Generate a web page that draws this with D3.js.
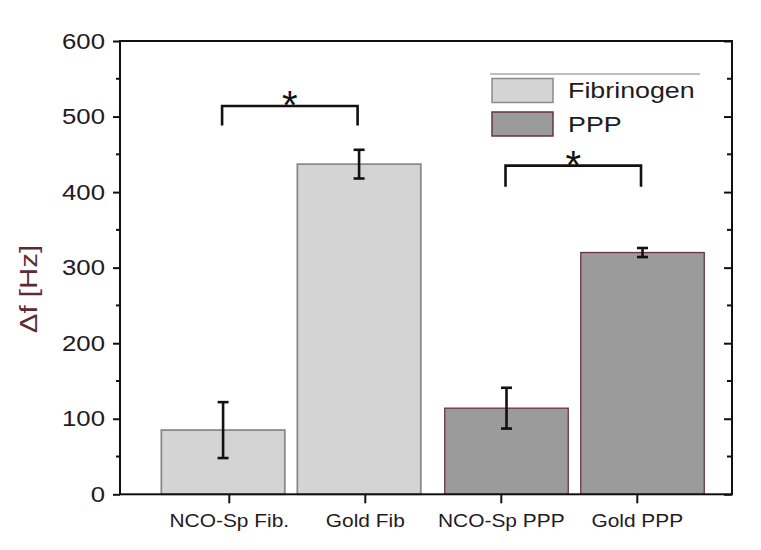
<!DOCTYPE html>
<html>
<head>
<meta charset="utf-8">
<script src="https://cdn.jsdelivr.net/npm/d3@7"></script>
<style>
  html, body { margin: 0; padding: 0; background: #fff; }
  svg { display: block; }
  text { font-family: "Liberation Sans", Arial, sans-serif; }
</style>
</head>
<body>
<svg id="chart" width="761" height="550"></svg>
<script>
// ---- data ----
const categories = ["NCO-Sp Fib.", "Gold Fib", "NCO-Sp PPP", "Gold PPP"];
const seriesNames = ["Fibrinogen", "PPP"];
const barSeries = [0, 0, 1, 1];          // which series each bar belongs to
const values = [85, 437, 114, 320];
const errors = [37, 19, 27, 6];
const yTicks = [0, 100, 200, 300, 400, 500, 600];
const brackets = [
  { from: 0, to: 1, top: 514, foot: 488 },
  { from: 2, to: 3, top: 435, foot: 407 }
];

(function () {
// ---- layout ----
const svg = d3.select("#chart");
const mLeft = 120, mRight = 732, mTop = 41, mBottom = 494.3;
const fills = ["#d4d4d4", "#9b9b9b"];
const strokes = ["#8e8a8c", "#6a3344"];
const seriesOffset = [-0.042, 0.042];
const barW = 0.908;
const textColor = "#241a1e";

// horizontal widening of text glyphs (the reference type is wide)
function widen(sel, sx) {
  sel.each(function () {
    const t = d3.select(this);
    const xv = +t.attr("x") || 0;
    t.attr("x", 0).attr("transform", `translate(${xv},0) scale(${sx},1)`);
  });
}

const x = d3.scaleLinear().domain([0.2, 4.7]).range([mLeft, mRight]);
const y = d3.scaleLinear().domain([0, 600]).range([mBottom, mTop]);
const barCenter = i => x(i + 1 + seriesOffset[barSeries[i]]);

// bars
svg.append("g").selectAll("rect").data(values).join("rect")
  .attr("x", (d, i) => barCenter(i) - (x(barW) - x(0)) / 2)
  .attr("width", x(barW) - x(0))
  .attr("y", d => y(d))
  .attr("height", d => y(0) - y(d))
  .attr("fill", (d, i) => fills[barSeries[i]])
  .attr("stroke", (d, i) => strokes[barSeries[i]])
  .attr("stroke-width", (d, i) => barSeries[i] === 0 ? 1.8 : 1.3);

// error bars
const eg = svg.append("g").attr("stroke", "#111").attr("stroke-width", 2.6).attr("fill", "none");
values.forEach((v, i) => {
  const cx = barCenter(i);
  eg.append("line").attr("x1", cx).attr("x2", cx).attr("y1", y(v + errors[i])).attr("y2", y(v - errors[i]));
  [v + errors[i], v - errors[i]].forEach(e => {
    eg.append("line").attr("x1", cx - 5.5).attr("x2", cx + 5.5).attr("y1", y(e)).attr("y2", y(e));
  });
});

// frame
svg.append("rect").attr("x", mLeft).attr("y", mTop).attr("width", mRight - mLeft).attr("height", mBottom - mTop)
  .attr("fill", "none").attr("stroke", "#111").attr("stroke-width", 2);

// left axis
const yAxis = d3.axisLeft(y).tickValues(yTicks).tickSize(7).tickPadding(8).tickFormat(d3.format("d"));
const ya = svg.append("g").attr("transform", `translate(${mLeft},0)`).call(yAxis);
ya.select(".domain").remove();
ya.selectAll("line").attr("stroke", "#111").attr("stroke-width", 2);
ya.selectAll("text").attr("font-size", 22).attr("fill", textColor);
widen(ya.selectAll("text"), 1.17);
// left minor ticks
const minor = d3.range(50, 600, 100);
svg.append("g").selectAll("line").data(minor).join("line")
  .attr("x1", mLeft - 4).attr("x2", mLeft).attr("y1", d => y(d)).attr("y2", d => y(d))
  .attr("stroke", "#111").attr("stroke-width", 2);
// right inward ticks
const ra = svg.append("g").attr("transform", `translate(${mRight},0)`)
  .call(d3.axisLeft(y).tickValues(yTicks).tickSize(8).tickFormat(""));
ra.select(".domain").remove();
ra.selectAll("line").attr("stroke", "#111").attr("stroke-width", 2);
svg.append("g").selectAll("line").data(minor).join("line")
  .attr("x1", mRight - 5).attr("x2", mRight).attr("y1", d => y(d)).attr("y2", d => y(d))
  .attr("stroke", "#111").attr("stroke-width", 2);

// bottom axis
const xAxis = d3.axisBottom(x).tickValues([1, 2, 3, 4]).tickSize(9).tickPadding(10)
  .tickFormat(d => categories[d - 1]);
const xa = svg.append("g").attr("transform", `translate(0,${mBottom})`).call(xAxis);
xa.select(".domain").remove();
xa.selectAll("line").attr("stroke", "#111").attr("stroke-width", 2);
xa.selectAll("text").attr("font-size", 19).attr("fill", textColor);
widen(xa.selectAll("text"), 1.1);

// y axis title
svg.append("text").attr("transform", "translate(37,289) rotate(-90) scale(1.28,1)")
  .attr("text-anchor", "middle").attr("font-size", 23).attr("fill", "#5e2a38")
  .text("\u0394f [Hz]");

// significance brackets
const bg = svg.append("g");
brackets.forEach(b => {
  const x1 = barCenter(b.from) - 1, x2 = barCenter(b.to) - 1.5;
  bg.append("path")
    .attr("d", `M${x1},${y(b.foot)}V${y(b.top)}H${x2}V${y(b.foot)}`)
    .attr("fill", "none").attr("stroke", "#111").attr("stroke-width", 2.6);
  bg.append("text").attr("x", (x1 + x2) / 2).attr("y", y(b.top) + 13)
    .attr("text-anchor", "middle").attr("font-size", 40).attr("fill", "#111").text("*");
});

// legend
const lg = svg.append("g");
lg.append("line").attr("x1", 490).attr("x2", 700).attr("y1", 74).attr("y2", 74)
  .attr("stroke", "#a8a8a8").attr("stroke-width", 1.5);
seriesNames.forEach((s, i) => {
  const yy = 78.5 + i * 33.5;
  lg.append("rect").attr("x", 492).attr("y", yy).attr("width", 61).attr("height", 24)
    .attr("fill", fills[i]).attr("stroke", strokes[i]).attr("stroke-width", 1.5);
  const t = lg.append("text").attr("x", 568).attr("y", yy + 20).attr("font-size", 22)
    .attr("fill", textColor).text(s);
  widen(t, 1.22);
});
})();
</script>
</body>
</html>
